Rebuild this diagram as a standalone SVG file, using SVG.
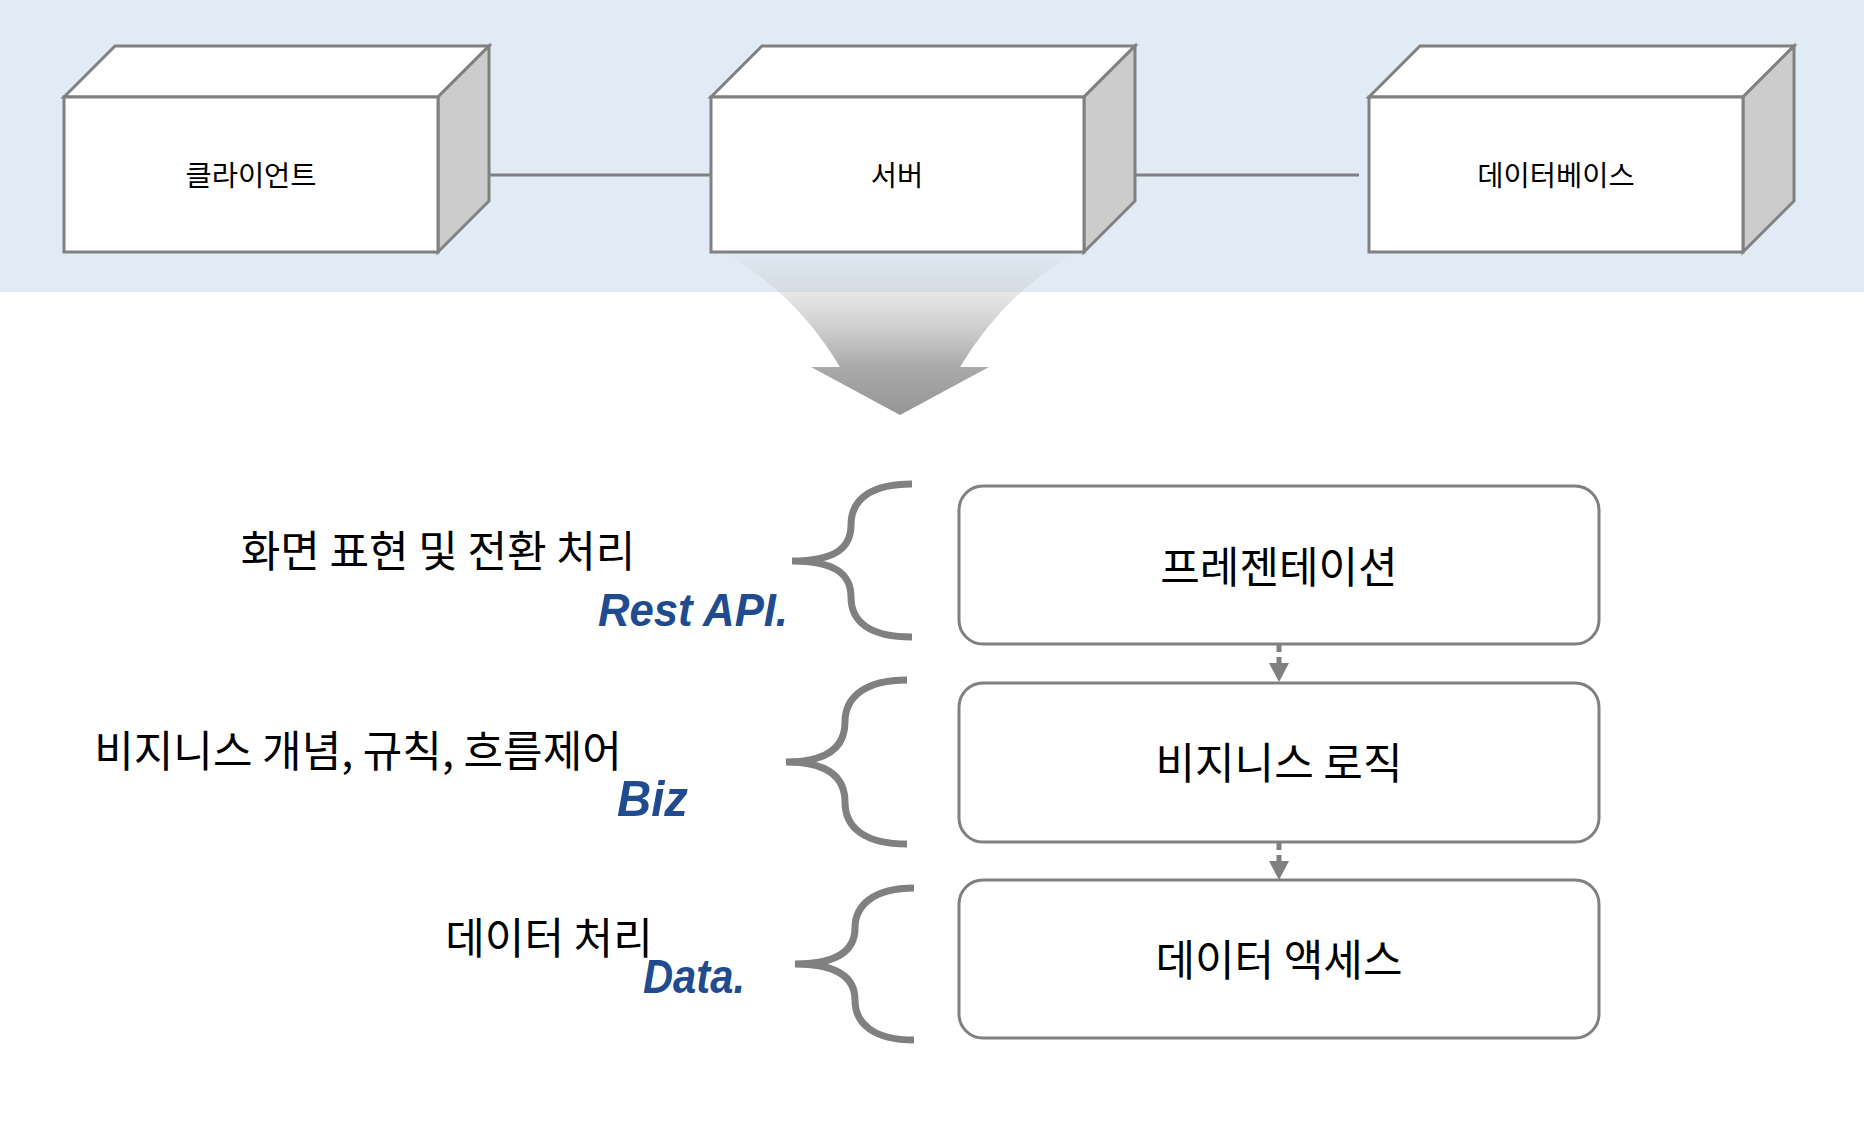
<svg xmlns="http://www.w3.org/2000/svg" width="1864" height="1132" viewBox="0 0 1864 1132">
<style>
.face{fill:#ffffff;stroke:#808080;stroke-width:3;stroke-linejoin:miter}
.side{fill:#cccccc;stroke:#808080;stroke-width:3}
.lbl{font-family:"Noto Sans CJK KR","Noto Sans",sans-serif;fill:#000;text-anchor:middle;dominant-baseline:central}
.small{font-size:28.5px}
.big{font-size:43px}
.rbox{fill:#ffffff;stroke:#808080;stroke-width:3}
.brace{fill:none;stroke:#808080;stroke-width:7;stroke-linecap:butt}
.hand{font-family:"Liberation Sans","DejaVu Sans",sans-serif;font-style:italic;font-weight:bold;fill:#214b8f}
.conn{stroke:#808080;stroke-width:3;fill:none}
.dash{stroke:#808080;stroke-width:5;fill:none;stroke-dasharray:7 5}
</style>
<defs>
<marker id="arr" markerUnits="userSpaceOnUse" markerWidth="20" markerHeight="20" refX="4" refY="10" orient="auto">
<path d="M0,0 L19,10 L0,20 Z" fill="#808080"/>
</marker>
<linearGradient id="bigArrow" gradientUnits="userSpaceOnUse" x1="0" y1="252" x2="0" y2="415">
<stop offset="0" stop-color="#bbbbbb" stop-opacity="0"/>
<stop offset="0.25" stop-color="#c8c8c8" stop-opacity="0.45"/>
<stop offset="0.7" stop-color="#aaaaaa" stop-opacity="1"/>
<stop offset="1" stop-color="#959595" stop-opacity="1"/>
</linearGradient>
</defs>
<rect x="0" y="0" width="1864" height="292" fill="#e0ebf5"/>
<g id="connectors">
<line class="conn" x1="489" y1="175" x2="711" y2="175"/>
<line class="conn" x1="1135" y1="175" x2="1359" y2="175"/>
<line class="dash" x1="1279" y1="645" x2="1279" y2="667" marker-end="url(#arr)"/>
<line class="dash" x1="1279" y1="843" x2="1279" y2="865" marker-end="url(#arr)"/>
</g>
<g id="transition-arrow">
<path d="M723,252 Q795,292 840,367 L811,367 L900,415 L989,367 L960,367 Q1005,292 1077,252 Z" fill="url(#bigArrow)"/>
</g>
<g id="client">
<polygon class="face" points="64,97 115,46 489,46 438,97"/>
<polygon class="side" points="438,97 489,46 489,201 438,252"/>
<rect class="face" x="64" y="97" width="374" height="155"/>
<text class="lbl small" x="251" y="173">클라이언트</text>
</g>
<g id="server">
<polygon class="face" points="711,97 762,46 1135,46 1084,97"/>
<polygon class="side" points="1084,97 1135,46 1135,201 1084,252"/>
<rect class="face" x="711" y="97" width="373" height="155"/>
<text class="lbl small" x="897" y="173">서버</text>
</g>
<g id="database">
<polygon class="face" points="1369,97 1420,46 1794,46 1743,97"/>
<polygon class="side" points="1743,97 1794,46 1794,201 1743,252"/>
<rect class="face" x="1369" y="97" width="374" height="155"/>
<text class="lbl small" x="1556" y="173">데이터베이스</text>
</g>
<g id="presentation">
<rect class="rbox" x="959" y="486" width="640" height="158" rx="24"/>
<text class="lbl big" x="1279" y="564">프레젠테이션</text>
</g>
<g id="business">
<rect class="rbox" x="959" y="683" width="640" height="159" rx="24"/>
<text class="lbl big" x="1279" y="760">비지니스 로직</text>
</g>
<g id="dataaccess">
<rect class="rbox" x="959" y="880" width="640" height="158" rx="24"/>
<text class="lbl big" x="1279" y="957">데이터 액세스</text>
</g>
<g id="desc-presentation">
<path class="brace" d="M912,484 C870,484 851,500 851,525 C851,548 835,561 792,561 C835,561 851,574 851,597 C851,622 870,637 912,637"/>
<text class="lbl big" x="438" y="548">화면 표현 및 전환 처리</text>
<text class="hand" x="598" y="626" font-size="46" textLength="190" lengthAdjust="spacingAndGlyphs">Rest API.</text>
</g>
<g id="desc-business">
<path class="brace" d="M907,680 C865,680 845,697 845,722 C845,746 829,762 786,762 C829,762 845,778 845,802 C845,828 865,844 907,844"/>
<text class="lbl big" x="358" y="748">비지니스 개념, 규칙, 흐름제어</text>
<text class="hand" x="617" y="816" font-size="50" textLength="71" lengthAdjust="spacingAndGlyphs">Biz</text>
</g>
<g id="desc-data">
<path class="brace" d="M914,888 C874,888 855,905 855,928 C855,950 838,964 795,964 C838,964 855,978 855,1000 C855,1024 874,1040 914,1040"/>
<text class="lbl big" x="549" y="935">데이터 처리</text>
<text class="hand" x="643" y="993" font-size="48" textLength="102" lengthAdjust="spacingAndGlyphs">Data.</text>
</g>
</svg>
